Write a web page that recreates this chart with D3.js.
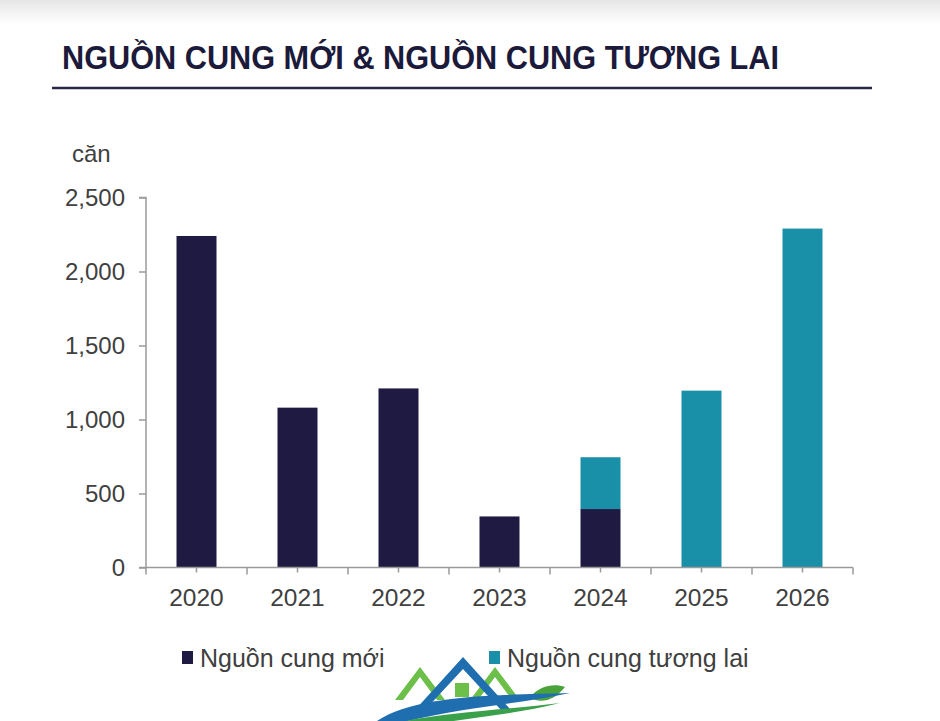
<!DOCTYPE html>
<html>
<head>
<meta charset="utf-8">
<script src="https://cdn.jsdelivr.net/npm/d3@7"></script>
<style>
  body { margin: 0; background: #fff; }
  svg { display: block; font-family: "Liberation Sans", Arial, sans-serif; }
</style>
</head>
<body>
<svg id="chart" width="940" height="721"></svg>
<script>
const years = ["2020", "2021", "2022", "2023", "2024", "2025", "2026"];
const newSupply = [2240, 1080, 1210, 345, 395, 0, 0];
const futureSupply = [0, 0, 0, 0, 350, 1195, 2290];
const yTicks = [0, 500, 1000, 1500, 2000, 2500];
const seriesNames = ["Nguồn cung mới", "Nguồn cung tương lai"];
const colors = ["#1f1a42", "#1a8fa8"];

const svg = d3.select("#chart");

// light gray band at the very top
const defs = svg.append("defs");
const grad = defs.append("linearGradient").attr("id", "topfade")
  .attr("x1", 0).attr("y1", 0).attr("x2", 0).attr("y2", 1);
grad.append("stop").attr("offset", "0%").attr("stop-color", "#e6e6e6");
grad.append("stop").attr("offset", "100%").attr("stop-color", "#ffffff");
svg.append("rect").attr("x", 0).attr("y", 0).attr("width", 940).attr("height", 24)
  .attr("fill", "url(#topfade)");

// title
svg.append("text")
  .attr("x", 62).attr("y", 69)
  .attr("font-size", 33)
  .attr("font-weight", "bold")
  .attr("fill", "#1c1a3a")
  .attr("textLength", 717)
  .attr("lengthAdjust", "spacingAndGlyphs")
  .text("NGUỒN CUNG MỚI & NGUỒN CUNG TƯƠNG LAI");

svg.append("line")
  .attr("x1", 52).attr("x2", 872).attr("y1", 88).attr("y2", 88)
  .attr("stroke", "#2a2848").attr("stroke-width", 2.5);

const x = d3.scaleBand().domain(years).range([146, 853]).padding(0);
const y = d3.scaleLinear().domain([0, 2500]).range([567.5, 197.5]);
const barW = 40;

const data = years.map((yr, i) => ({ year: yr, a: newSupply[i], b: futureSupply[i] }));
const stacked = d3.stack().keys(["a", "b"])(data);

svg.append("g")
  .selectAll("g")
  .data(stacked)
  .join("g")
  .attr("fill", (d, i) => colors[i])
  .selectAll("rect")
  .data(d => d.filter(p => p[1] > p[0]))
  .join("rect")
  .attr("x", d => x(d.data.year) + x.bandwidth() / 2 - barW / 2)
  .attr("width", barW)
  .attr("y", d => y(d[1]))
  .attr("height", d => y(d[0]) - y(d[1]));

// y axis
const yAxis = svg.append("g")
  .attr("transform", "translate(146,0)")
  .call(d3.axisLeft(y).tickValues(yTicks).tickSize(7).tickPadding(14)
    .tickFormat(d3.format(",")));
yAxis.select(".domain").attr("stroke", "#9a9a9a").attr("stroke-width", 1.5)
  .attr("d", "M-7," + y(2500) + "H0V" + y(0));
yAxis.selectAll(".tick line").attr("stroke", "#9a9a9a").attr("stroke-width", 1.5);
yAxis.selectAll(".tick text").attr("font-size", 24).attr("fill", "#404040")
  .attr("font-family", "Liberation Sans, Arial, sans-serif");

// x axis
const xAxis = svg.append("g").attr("transform", "translate(0," + y(0) + ")");
xAxis.append("line")
  .attr("x1", 139).attr("x2", 853)
  .attr("stroke", "#9a9a9a").attr("stroke-width", 1.5);
const bounds = years.map(d => x(d)).concat([x.range()[1]]);
xAxis.selectAll("line.bound")
  .data(bounds)
  .join("line")
  .attr("class", "bound")
  .attr("x1", d => d).attr("x2", d => d)
  .attr("y1", 0).attr("y2", 7)
  .attr("stroke", "#9a9a9a").attr("stroke-width", 1.5);
xAxis.selectAll("line.mid")
  .data(years)
  .join("line")
  .attr("class", "mid")
  .attr("x1", d => x(d) + x.bandwidth() / 2).attr("x2", d => x(d) + x.bandwidth() / 2)
  .attr("y1", 0).attr("y2", 5)
  .attr("stroke", "#9a9a9a").attr("stroke-width", 1.5);
xAxis.selectAll("text")
  .data(years)
  .join("text")
  .attr("x", d => x(d) + x.bandwidth() / 2)
  .attr("y", 38)
  .attr("text-anchor", "middle")
  .attr("font-size", 24.5)
  .attr("fill", "#404040")
  .text(d => d);

// unit label
svg.append("text")
  .attr("x", 72).attr("y", 162)
  .attr("font-size", 24)
  .attr("fill", "#404040")
  .text("căn");

// legend
const legendX = [182, 489];
const legend = svg.append("g")
  .selectAll("g")
  .data(seriesNames)
  .join("g")
  .attr("transform", (d, i) => "translate(" + legendX[i] + ",650)");
legend.append("rect")
  .attr("width", 11).attr("height", 13).attr("y", 1)
  .attr("fill", (d, i) => colors[i]);
legend.append("text")
  .attr("x", 18).attr("y", 17)
  .attr("font-size", 25)
  .attr("fill", "#404040")
  .text(d => d);

// watermark logo (rough)
const logo = svg.append("g").attr("transform", "translate(375,655)");
logo.append("path").attr("d", "M20,45 L45,12 L70,45 L62,45 L45,22 L28,45 Z").attr("fill", "#6cc04a");
logo.append("path").attr("d", "M95,45 L120,12 L145,45 L137,45 L120,22 L103,45 Z").attr("fill", "#6cc04a");
logo.append("path").attr("d", "M40,55 L88,2 L136,55 L126,55 L88,14 L50,55 Z").attr("fill", "#1f6fb0");
logo.append("rect").attr("x", 80).attr("y", 28).attr("width", 14).attr("height", 14).attr("fill", "#6cc04a");
logo.append("path").attr("d", "M155,42 C165,30 180,28 190,32 C180,45 165,50 155,42 Z").attr("fill", "#4aa33a");
logo.append("path").attr("d", "M2,66 C40,40 120,40 195,38 C140,50 80,52 10,72 Z").attr("fill", "#1f6fb0");
logo.append("path").attr("d", "M8,72 C50,58 120,56 185,48 C130,62 70,64 14,78 Z").attr("fill", "#3aa04a");
</script>
</body>
</html>
